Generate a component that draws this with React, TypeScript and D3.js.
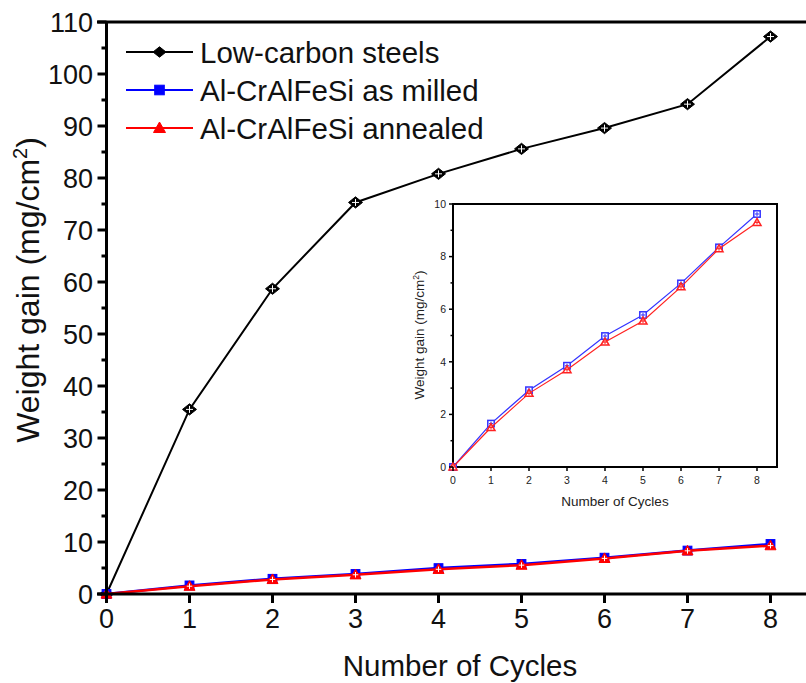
import React from "react";
import * as d3 from "d3";

const cycles = [0, 1, 2, 3, 4, 5, 6, 7, 8];
const lowCarbon = [0, 35.5, 58.7, 75.3, 80.8, 85.6, 89.6, 94.2, 107.2];
const milled = [0, 1.65, 2.92, 3.85, 4.98, 5.78, 6.98, 8.35, 9.62];
const annealed = [0, 1.5, 2.8, 3.7, 4.75, 5.55, 6.85, 8.3, 9.3];
const mainYTicks = [0, 10, 20, 30, 40, 50, 60, 70, 80, 90, 100, 110];
const insetYTicks = [0, 2, 4, 6, 8, 10];
const legendLabels = ["Low-carbon steels", "Al-CrAlFeSi as milled", "Al-CrAlFeSi annealed"];

const FONT = "'Liberation Sans', Arial, sans-serif";

function Marker({ kind, cx, cy, s, color, fill, cross, sw }: any) {
  let shape;
  if (kind === "diamond") {
    shape = <path d={`M${cx - s},${cy} L${cx},${cy - s * 0.8} L${cx + s},${cy} L${cx},${cy + s * 0.8} Z`} fill={fill} stroke={color} strokeWidth={sw} />;
  } else if (kind === "square") {
    shape = <rect x={cx - s * 0.8} y={cy - s * 0.8} width={s * 1.6} height={s * 1.6} fill={fill} stroke={color} strokeWidth={sw} />;
  } else {
    shape = <path d={`M${cx},${cy - s} L${cx + s},${cy + s * 0.75} L${cx - s},${cy + s * 0.75} Z`} fill={fill} stroke={color} strokeWidth={sw} />;
  }
  return (
    <g>
      {shape}
      {cross && (
        <g stroke={cross} strokeWidth={1}>
          <line x1={cx - s * 0.5} x2={cx + s * 0.5} y1={cy} y2={cy} />
          <line x1={cx} x2={cx} y1={cy - s * 0.5} y2={cy + s * 0.5} />
        </g>
      )}
    </g>
  );
}

export default function App() {
  const x = d3.scaleLinear().domain([0, 8]).range([106.5, 770.5]);
  const y = d3.scaleLinear().domain([0, 110]).range([594, 22]);
  const line = (vals: number[]) =>
    d3.line<number>().x((_, i) => x(cycles[i])).y((d) => y(d))(vals) as string;

  const ix = d3.scaleLinear().domain([0, 8]).range([453, 757]);
  const iy = d3.scaleLinear().domain([0, 10]).range([467, 204]);
  const iline = (vals: number[]) =>
    d3.line<number>().x((_, i) => ix(cycles[i])).y((d) => iy(d))(vals) as string;

  const minorY = d3.range(5, 110, 10);
  const insetMinorY = d3.range(1, 10, 2);

  const series = [
    { vals: lowCarbon, color: "#000000", kind: "diamond", w: 2 },
    { vals: milled, color: "#0000ff", kind: "square", w: 2.5 },
    { vals: annealed, color: "#ff0000", kind: "triangle", w: 2.5 },
  ];

  return (
    <svg width={806} height={683} style={{ position: "absolute", left: 0, top: 0, background: "#fff" }} fontFamily={FONT}>
      <rect x={0} y={0} width={806} height={683} fill="#fff" />
      {/* main series */}
      {series.map((s, k) => (
        <g key={k}>
          <path d={line(s.vals)} fill="none" stroke={s.color} strokeWidth={s.w} />
          {s.vals.map((v, i) => (
            <Marker key={i} kind={s.kind} cx={x(cycles[i])} cy={y(v)} s={k === 0 ? 7 : 5.5} color={s.color} fill={s.color} cross="#fff" sw={1} />
          ))}
        </g>
      ))}

      {/* axes */}
      <g stroke="#000" strokeWidth={3}>
        <line x1={97} x2={806} y1={y(110)} y2={y(110)} />
        <line x1={x(0)} x2={x(0)} y1={y(110)} y2={y(0) + 8} />
        <line x1={97} x2={806} y1={y(0)} y2={y(0)} />
      </g>
      {mainYTicks.map((t) => (
        <g key={t}>
          <line x1={x(0) - 9} x2={x(0)} y1={y(t)} y2={y(t)} stroke="#000" strokeWidth={3} />
          <text x={93} y={y(t)} dy="0.36em" textAnchor="end" fontSize={27} fill="#111">{t}</text>
        </g>
      ))}
      {minorY.map((t) => (
        <line key={t} x1={x(0) - 5} x2={x(0)} y1={y(t)} y2={y(t)} stroke="#000" strokeWidth={3} />
      ))}
      {cycles.map((c) => (
        <g key={c}>
          <line x1={x(c)} x2={x(c)} y1={y(0)} y2={y(0) + 9} stroke="#000" strokeWidth={3} />
          <text x={x(c)} y={y(0) + 24} dy="0.36em" textAnchor="middle" fontSize={27} fill="#111">{c}</text>
        </g>
      ))}
      <text x={460} y={676} textAnchor="middle" fontSize={29.5} fill="#111">Number of Cycles</text>
      <text transform={`translate(39,290) rotate(-90)`} textAnchor="middle" fontSize={32} fill="#111">
        Weight gain (mg/cm<tspan fontSize={20} dy={-12}>2</tspan><tspan dy={12}>)</tspan>
      </text>

      {/* legend */}
      {legendLabels.map((lab, k) => {
        const ly = 52 + k * 38;
        const s = series[k];
        return (
          <g key={k}>
            <line x1={126} x2={193} y1={ly} y2={ly} stroke={s.color} strokeWidth={2} />
            <Marker kind={s.kind} cx={159.5} cy={ly} s={k === 0 ? 6.5 : 6} color={s.color} fill={s.color} sw={1} />
            <text x={200} y={ly} dy="0.36em" fontSize={29.5} fill="#111">{lab}</text>
          </g>
        );
      })}

      {/* inset */}
      <g>
        <rect x={453} y={204} width={324} height={263} fill="#fff" stroke="#000" strokeWidth={2} />
        {[
          { vals: milled, color: "#3333ff", kind: "square" },
          { vals: annealed, color: "#ff2222", kind: "triangle" },
        ].map((s, k) => (
          <g key={k}>
            <path d={iline(s.vals)} fill="none" stroke={s.color} strokeWidth={1.2} />
            {s.vals.map((v, i) => (
              <Marker key={i} kind={s.kind} cx={ix(cycles[i])} cy={iy(v)} s={4} color={s.color} fill="#fff" cross={s.color} sw={1.5} />
            ))}
          </g>
        ))}
        {insetYTicks.map((t) => (
          <g key={t}>
            <line x1={453 - 4} x2={453} y1={iy(t)} y2={iy(t)} stroke="#000" strokeWidth={1.5} />
            <text x={446} y={iy(t)} dy="0.36em" textAnchor="end" fontSize={10.5} fill="#222">{t}</text>
          </g>
        ))}
        {insetMinorY.map((t) => (
          <line key={t} x1={453 - 2.5} x2={453} y1={iy(t)} y2={iy(t)} stroke="#000" strokeWidth={1.5} />
        ))}
        {cycles.map((c) => (
          <g key={c}>
            <line x1={ix(c)} x2={ix(c)} y1={467} y2={471} stroke="#000" strokeWidth={1.5} />
            <text x={ix(c)} y={480} dy="0.36em" textAnchor="middle" fontSize={10.5} fill="#222">{c}</text>
          </g>
        ))}
        <text x={615} y={506} textAnchor="middle" fontSize={13.5} fill="#222">Number of Cycles</text>
        <text transform={`translate(424,335) rotate(-90)`} textAnchor="middle" fontSize={13.5} fill="#222">
          Weight gain (mg/cm<tspan fontSize={8.5} dy={-5}>2</tspan><tspan dy={5}>)</tspan>
        </text>
      </g>
    </svg>
  );
}
